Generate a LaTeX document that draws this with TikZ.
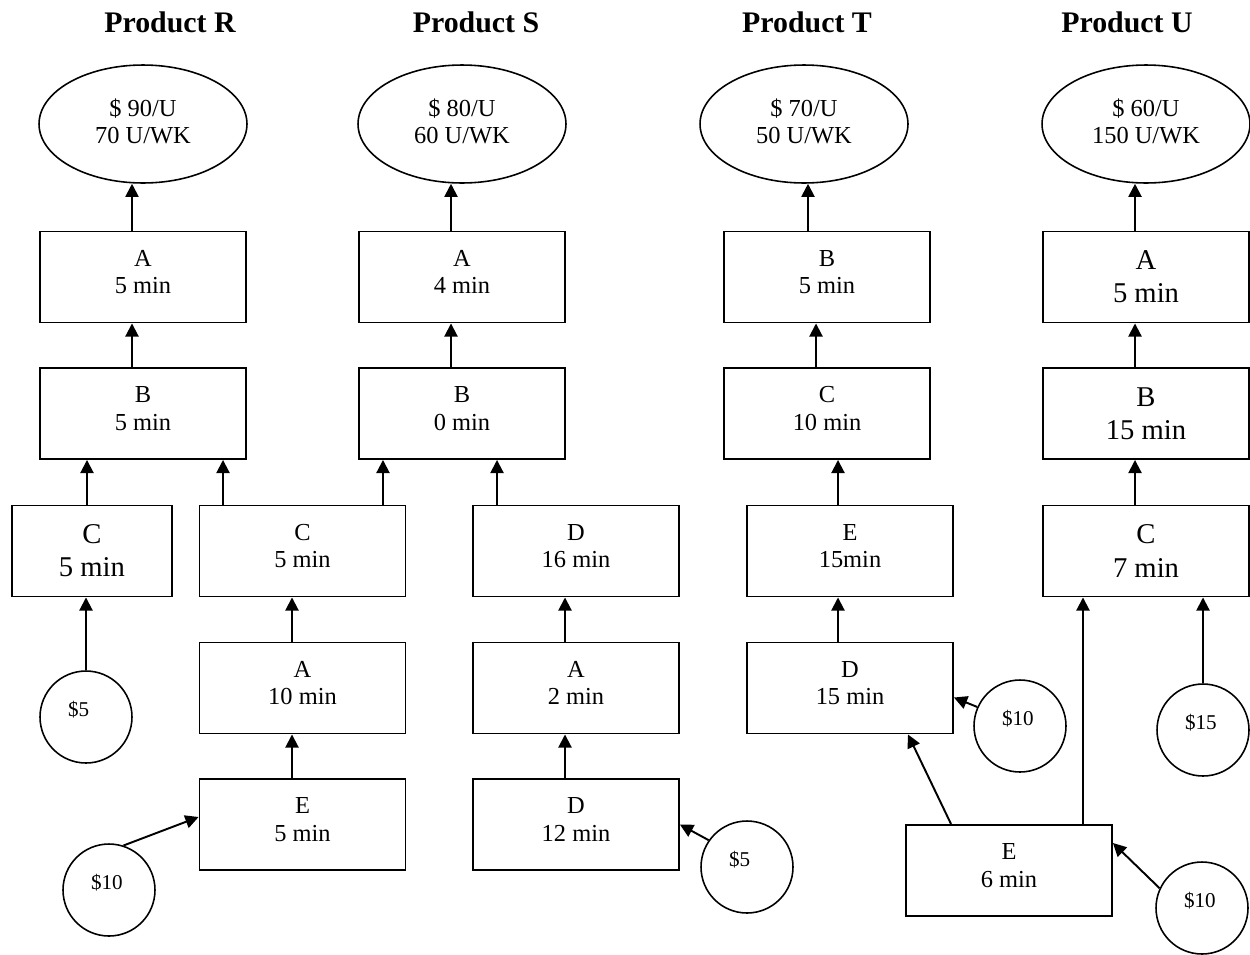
\documentclass[tikz,border=0pt]{standalone}
\usepackage{fontspec}
\setmainfont{Liberation Serif}
\usepackage{tikz}
\usetikzlibrary{shapes.geometric, arrows.meta, positioning}

\tikzset{
  title/.style={font=\bfseries\fontsize{17}{20}\selectfont},
  demand/.style={draw, ellipse, line width=0.9pt, minimum width=4.16cm, minimum height=2.36cm, inner sep=0pt, align=center, font=\fontsize{13.9}{15.6}\selectfont, execute at end node={\rule[-3.4pt]{0pt}{3.4pt}}},
  plainbox/.style={draw, rectangle, line width=1.1pt, minimum width=4.12cm, minimum height=1.82cm, align=center},
  opbox/.style={plainbox, font=\fontsize{13.9}{15.6}\selectfont, execute at end node={\rule[-5.6pt]{0pt}{5.6pt}}},
  bigbox/.style={plainbox, font=\fontsize{16.3}{18.8}\selectfont},
  cost/.style={draw, circle, line width=0.9pt, minimum size=1.84cm, inner sep=0pt, text width=20.4pt, align=left, text height=9pt, text depth=10pt, font=\fontsize{12}{14}\selectfont},
  arr/.style={-{Triangle[length=7.5pt,width=7.5pt]}, line width=1.1pt}
}

\begin{document}
\begin{tikzpicture}[x=0.02cm, y=-0.02cm]
\useasboundingbox (0,0) rectangle (1250,954);

% Product titles
\foreach \x/\p in {170/R, 476/S, 807/T, 1127/U} {
   \node[title] (title\p) at (\x, 22) {Product \p};
}

% Price and demand
\foreach \p/\x/\price/\qty in {R/143/90/70, S/462/80/60, T/804/70/50, U/1146/60/150} {
   \node[demand] (ell\p) at (\x, 124) {\$ \price/U\\\qty\ U/WK};
}

% Product R
\node[opbox] (RA) at (143, 277) {A\\5 min};
\node[opbox] (RB) at (143, 413.5) {B\\5 min};
\node[bigbox, minimum width=3.2cm] (RC) at (92, 551) {C\\5 min};
\node[cost] (c5R) at (86, 717) {\$5};

% Product S
\node[opbox] (SA) at (462, 277) {A\\4 min};
\node[opbox] (SB) at (462, 413.5) {B\\0 min};
\node[opbox] (SC) at (302.5, 551) {C\\5 min};
\node[opbox] (SD) at (576, 551) {D\\16 min};
\node[opbox] (SA2) at (302.5, 688) {A\\10 min};
\node[opbox] (SA3) at (576, 688) {A\\2 min};
\node[opbox] (SE) at (302.5, 824.5) {E\\5 min};
\node[opbox] (SD2) at (576, 824.5) {D\\12 min};
\node[cost] (c10R) at (109, 890) {\$10};
\node[cost] (c5S) at (747, 867) {\$5};

% Product T
\node[opbox] (TB) at (827, 277) {B\\5 min};
\node[opbox] (TC) at (827, 413.5) {C\\10 min};
\node[opbox] (TE) at (850, 551) {E\\15min};
\node[opbox] (TD) at (850, 688) {D\\15 min};
\node[opbox] (TE2) at (1009, 870.5) {E\\6 min};
\node[cost] (c10T) at (1020, 726) {\$10};

% Product U
\node[bigbox] (UA) at (1146, 277) {A\\5 min};
\node[bigbox] (UB) at (1146, 413.5) {B\\15 min};
\node[bigbox] (UC) at (1146, 551) {C\\7 min};
\node[cost] (c15U) at (1203, 730) {\$15};
\node[cost] (c10U) at (1202, 908) {\$10};

% Connections R
\draw[arr] ([xshift=-0.22cm]RA.north) -- ([xshift=-0.22cm]RA.north |- ellR.south);
\draw[arr] ([xshift=-0.22cm]RB.north) -- ([xshift=-0.22cm]RB.north |- RA.south);
\draw[arr] ([xshift=-0.1cm]RC.north) -- ([xshift=-0.1cm]RC.north |- RB.south);
\draw[arr] (c5R.north) -- (c5R.north |- RC.south);

% Connections S
\draw[arr] ([xshift=-0.22cm]SA.north) -- ([xshift=-0.22cm]SA.north |- ellS.south);
\draw[arr] ([xshift=-0.22cm]SB.north) -- ([xshift=-0.22cm]SB.north |- SA.south);
\draw[arr] ([xshift=-1.59cm]SC.north) -- ([xshift=-1.59cm]SC.north |- RB.south);
\draw[arr] ([xshift=1.61cm]SC.north) -- ([xshift=1.61cm]SC.north |- SB.south);
\draw[arr] ([xshift=-1.58cm]SD.north) -- ([xshift=-1.58cm]SD.north |- SB.south);
\draw[arr] ([xshift=-0.21cm]SA2.north) -- ([xshift=-0.21cm]SA2.north |- SC.south);
\draw[arr] ([xshift=-0.21cm]SE.north) -- ([xshift=-0.21cm]SE.north |- SA2.south);
\draw[arr] ([xshift=-0.22cm]SA3.north) -- ([xshift=-0.22cm]SA3.north |- SD.south);
\draw[arr] ([xshift=-0.22cm]SD2.north) -- ([xshift=-0.22cm]SD2.north |- SA3.south);
\draw[arr] (c10R.72) -- ([yshift=0.15cm]SE.west);
\draw[arr] (c5S.145) -- (SD2.east);

% Connections T
\draw[arr] ([xshift=-0.38cm]TB.north) -- ([xshift=-0.38cm]TB.north |- ellT.south);
\draw[arr] ([xshift=-0.22cm]TC.north) -- ([xshift=-0.22cm]TC.north |- TB.south);
\draw[arr] ([xshift=-0.24cm]TE.north) -- ([xshift=-0.24cm]TE.north |- TC.south);
\draw[arr] ([xshift=-0.24cm]TD.north) -- ([xshift=-0.24cm]TD.north |- TE.south);
\draw[arr] (c10T.156) -- ([yshift=-0.19cm]TD.east);
\draw[arr] ([xshift=0.92cm]TE2.north west) -- ([xshift=1.16cm]TD.south);

% Connections U
\draw[arr] ([xshift=-0.22cm]UA.north) -- ([xshift=-0.22cm]UA.north |- ellU.south);
\draw[arr] ([xshift=-0.22cm]UB.north) -- ([xshift=-0.22cm]UB.north |- UA.south);
\draw[arr] ([xshift=-0.22cm]UC.north) -- ([xshift=-0.22cm]UC.north |- UB.south);
\draw[arr] ([xshift=1.48cm]TE2.north) -- ([xshift=1.48cm]TE2.north |- UC.south);
\draw[arr] (c15U.north) -- (c15U.north |- UC.south);
\draw[arr] (c10U.155) -- ([yshift=0.55cm]TE2.east);
\end{tikzpicture}
\end{document}
